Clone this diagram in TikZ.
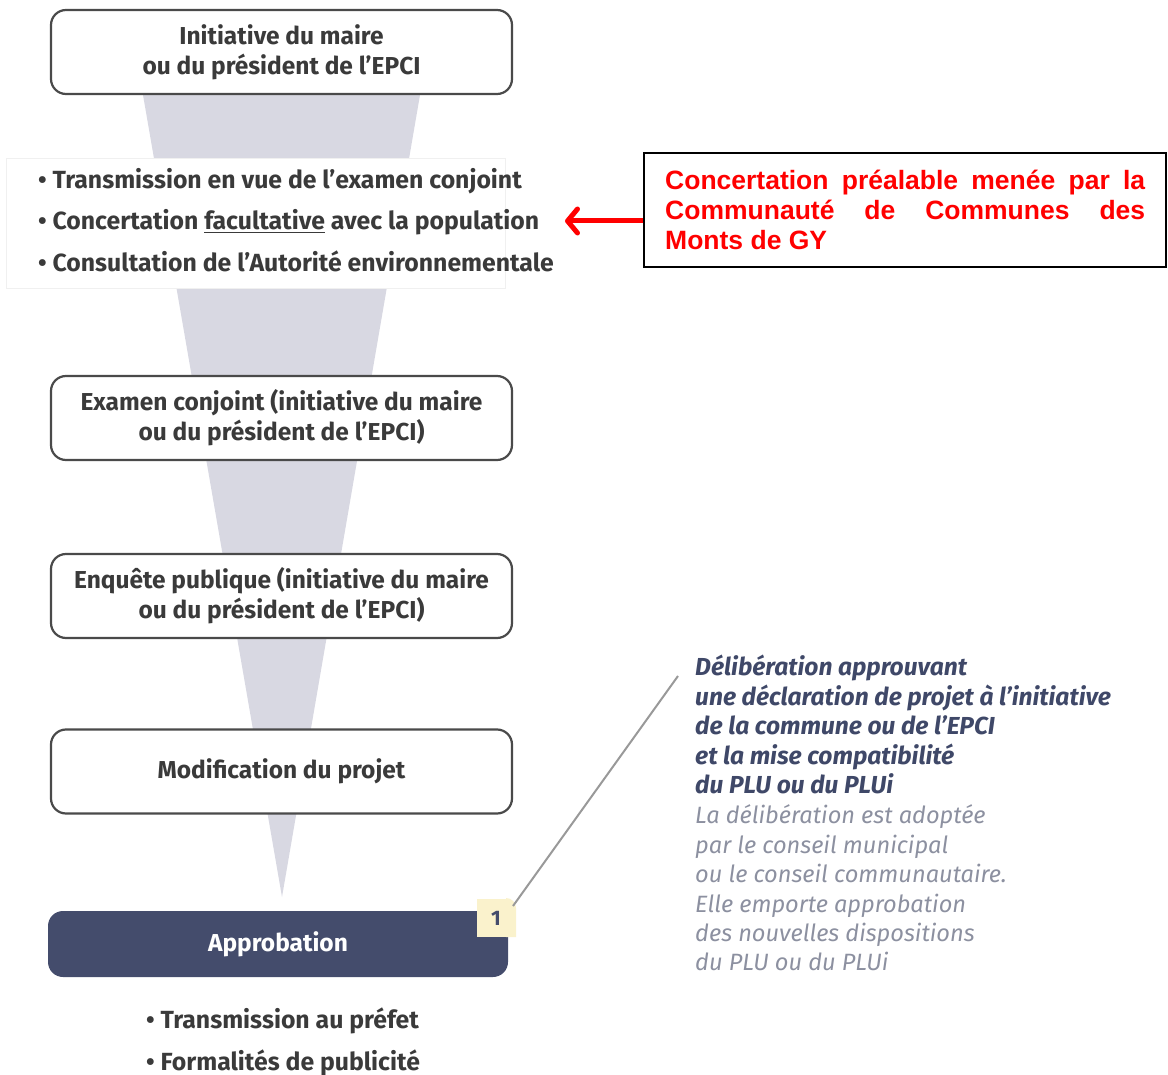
\documentclass[tikz,border=0pt]{standalone}
\usepackage{fontspec}
\setmainfont{Fira Sans}
\newfontfamily\arialfont{Liberation Sans}
\usetikzlibrary{arrows.meta}
\definecolor{txtgray}{HTML}{3A3A3A}
\definecolor{boxline}{HTML}{4A4A4A}
\definecolor{funnel}{HTML}{D8D8E2}
\definecolor{navy}{HTML}{444C6C}
\definecolor{badge}{HTML}{FAF2CC}
\definecolor{italgray}{HTML}{8C90A0}
\definecolor{italnavy}{HTML}{3F4868}
\newcommand{\mainfs}{\fontsize{24.5}{30}\selectfont}
\tikzset{
  stepbox/.style={draw=boxline, line width=2.2pt, rounded corners=15pt, fill=white,
    minimum width=461pt, minimum height=84pt, align=center, text=txtgray,
    font=\mainfs\bfseries},
  bullettxt/.style={anchor=base west, text=txtgray, inner sep=0pt, font=\fontsize{24.8}{30}\selectfont\bfseries},
  sidetxt/.style={anchor=base west, inner sep=0pt, text=italgray, font=\fontsize{23.6}{29.5}\selectfont\itshape},
  sidebold/.style={text=italnavy, font=\fontsize{24.6}{29.5}\selectfont\bfseries\itshape},
}
\begin{document}
\begin{tikzpicture}[x=1pt,y=-1pt]
\useasboundingbox (0,0) rectangle (1168,1075);
% funnel
\fill[funnel] (143,95) -- (420,95) -- (282,897) -- cycle;
% white band behind top bullets
\draw[draw=black!6, fill=white] (6,158) rectangle (505,288);
% boxes
\node[stepbox] (b1) at (281.5,52) {Initiative du maire\\ou du président de l’EPCI};
\node[stepbox] (b2) at (281.5,418) {Examen conjoint (initiative du maire\\ou du président de l’EPCI)};
\node[stepbox] (b3) at (281.5,596) {Enquête publique (initiative du maire\\ou du président de l’EPCI)};
\node[stepbox] (b4) at (281.5,771.5) {Modification du projet};
\node[fill=navy, rounded corners=15pt, minimum width=460pt, minimum height=66pt, text=white,
  font=\mainfs\bfseries] (ap) at (278,944) {Approbation};
\node[fill=badge, minimum width=38pt, minimum height=38pt, inner sep=0pt,
  rounded corners=0pt, text=navy, font=\fontsize{21}{30}\selectfont\bfseries] (bd) at (496,918) {1};
\fill[white] (507,898) rectangle (516,905);
\fill[badge] (506,898) -- (506,937) -- (516,937) -- (516,908) arc[start angle=0,end angle=90,radius=10pt] -- cycle;
% top bullets
\node[bullettxt] (t1) at (38,189) {• Transmission en vue de l’examen conjoint};
\node[bullettxt] (t2) at (38,230) {• Concertation \underline{facultative} avec la population};
\node[bullettxt] (t3) at (38,272) {• Consultation de l’Autorité environnementale};
% bottom bullets
\node[bullettxt] (u1) at (146,1028) {• Transmission au préfet};
\node[bullettxt] (u2) at (146,1070) {• Formalités de publicité};
% red box
\node[draw=black, line width=1.5pt, minimum width=522pt, minimum height=114pt, inner sep=0pt] (rb) at (905,210) {};
\node[anchor=north west, inner sep=0pt, text=red, font=\arialfont\fontsize{26.5}{30}\selectfont\bfseries, align=left]
  (rt) at (665,170) {\makebox[480pt][s]{Concertation préalable menée par la}\\
  \makebox[480pt][s]{Communauté de Communes des}\\Monts de GY};
\coordinate (arrtip) at (565,221);
\draw[red, line width=5pt, -{Straight Barb[length=10pt,width=24pt,line width=5pt,round]}] (rb.west |- arrtip) -- (arrtip);
% side text
\coordinate (lineend) at (678,676);
\draw[black!40, line width=2pt] (513,906) -- (lineend);
\begin{scope}[every node/.style={sidetxt}]
\node[sidebold] (s1) at (695,675) {Délibération approuvant};
\node[sidebold] (s2) at (695,705) {une déclaration de projet à l’initiative};
\node[sidebold] (s3) at (695,734) {de la commune ou de l’EPCI};
\node[sidebold] (s4) at (695,764) {et la mise compatibilité};
\node[sidebold] (s5) at (695,793) {du PLU ou du PLUi};
\node (s6) at (695,823) {La délibération est adoptée};
\node (s7) at (695,853) {par le conseil municipal};
\node (s8) at (695,882) {ou le conseil communautaire.};
\node (s9) at (695,912) {Elle emporte approbation};
\node (s10) at (695,941) {des nouvelles dispositions};
\node (s11) at (695,970) {du PLU ou du PLUi};
\end{scope}
\end{tikzpicture}
\end{document}
